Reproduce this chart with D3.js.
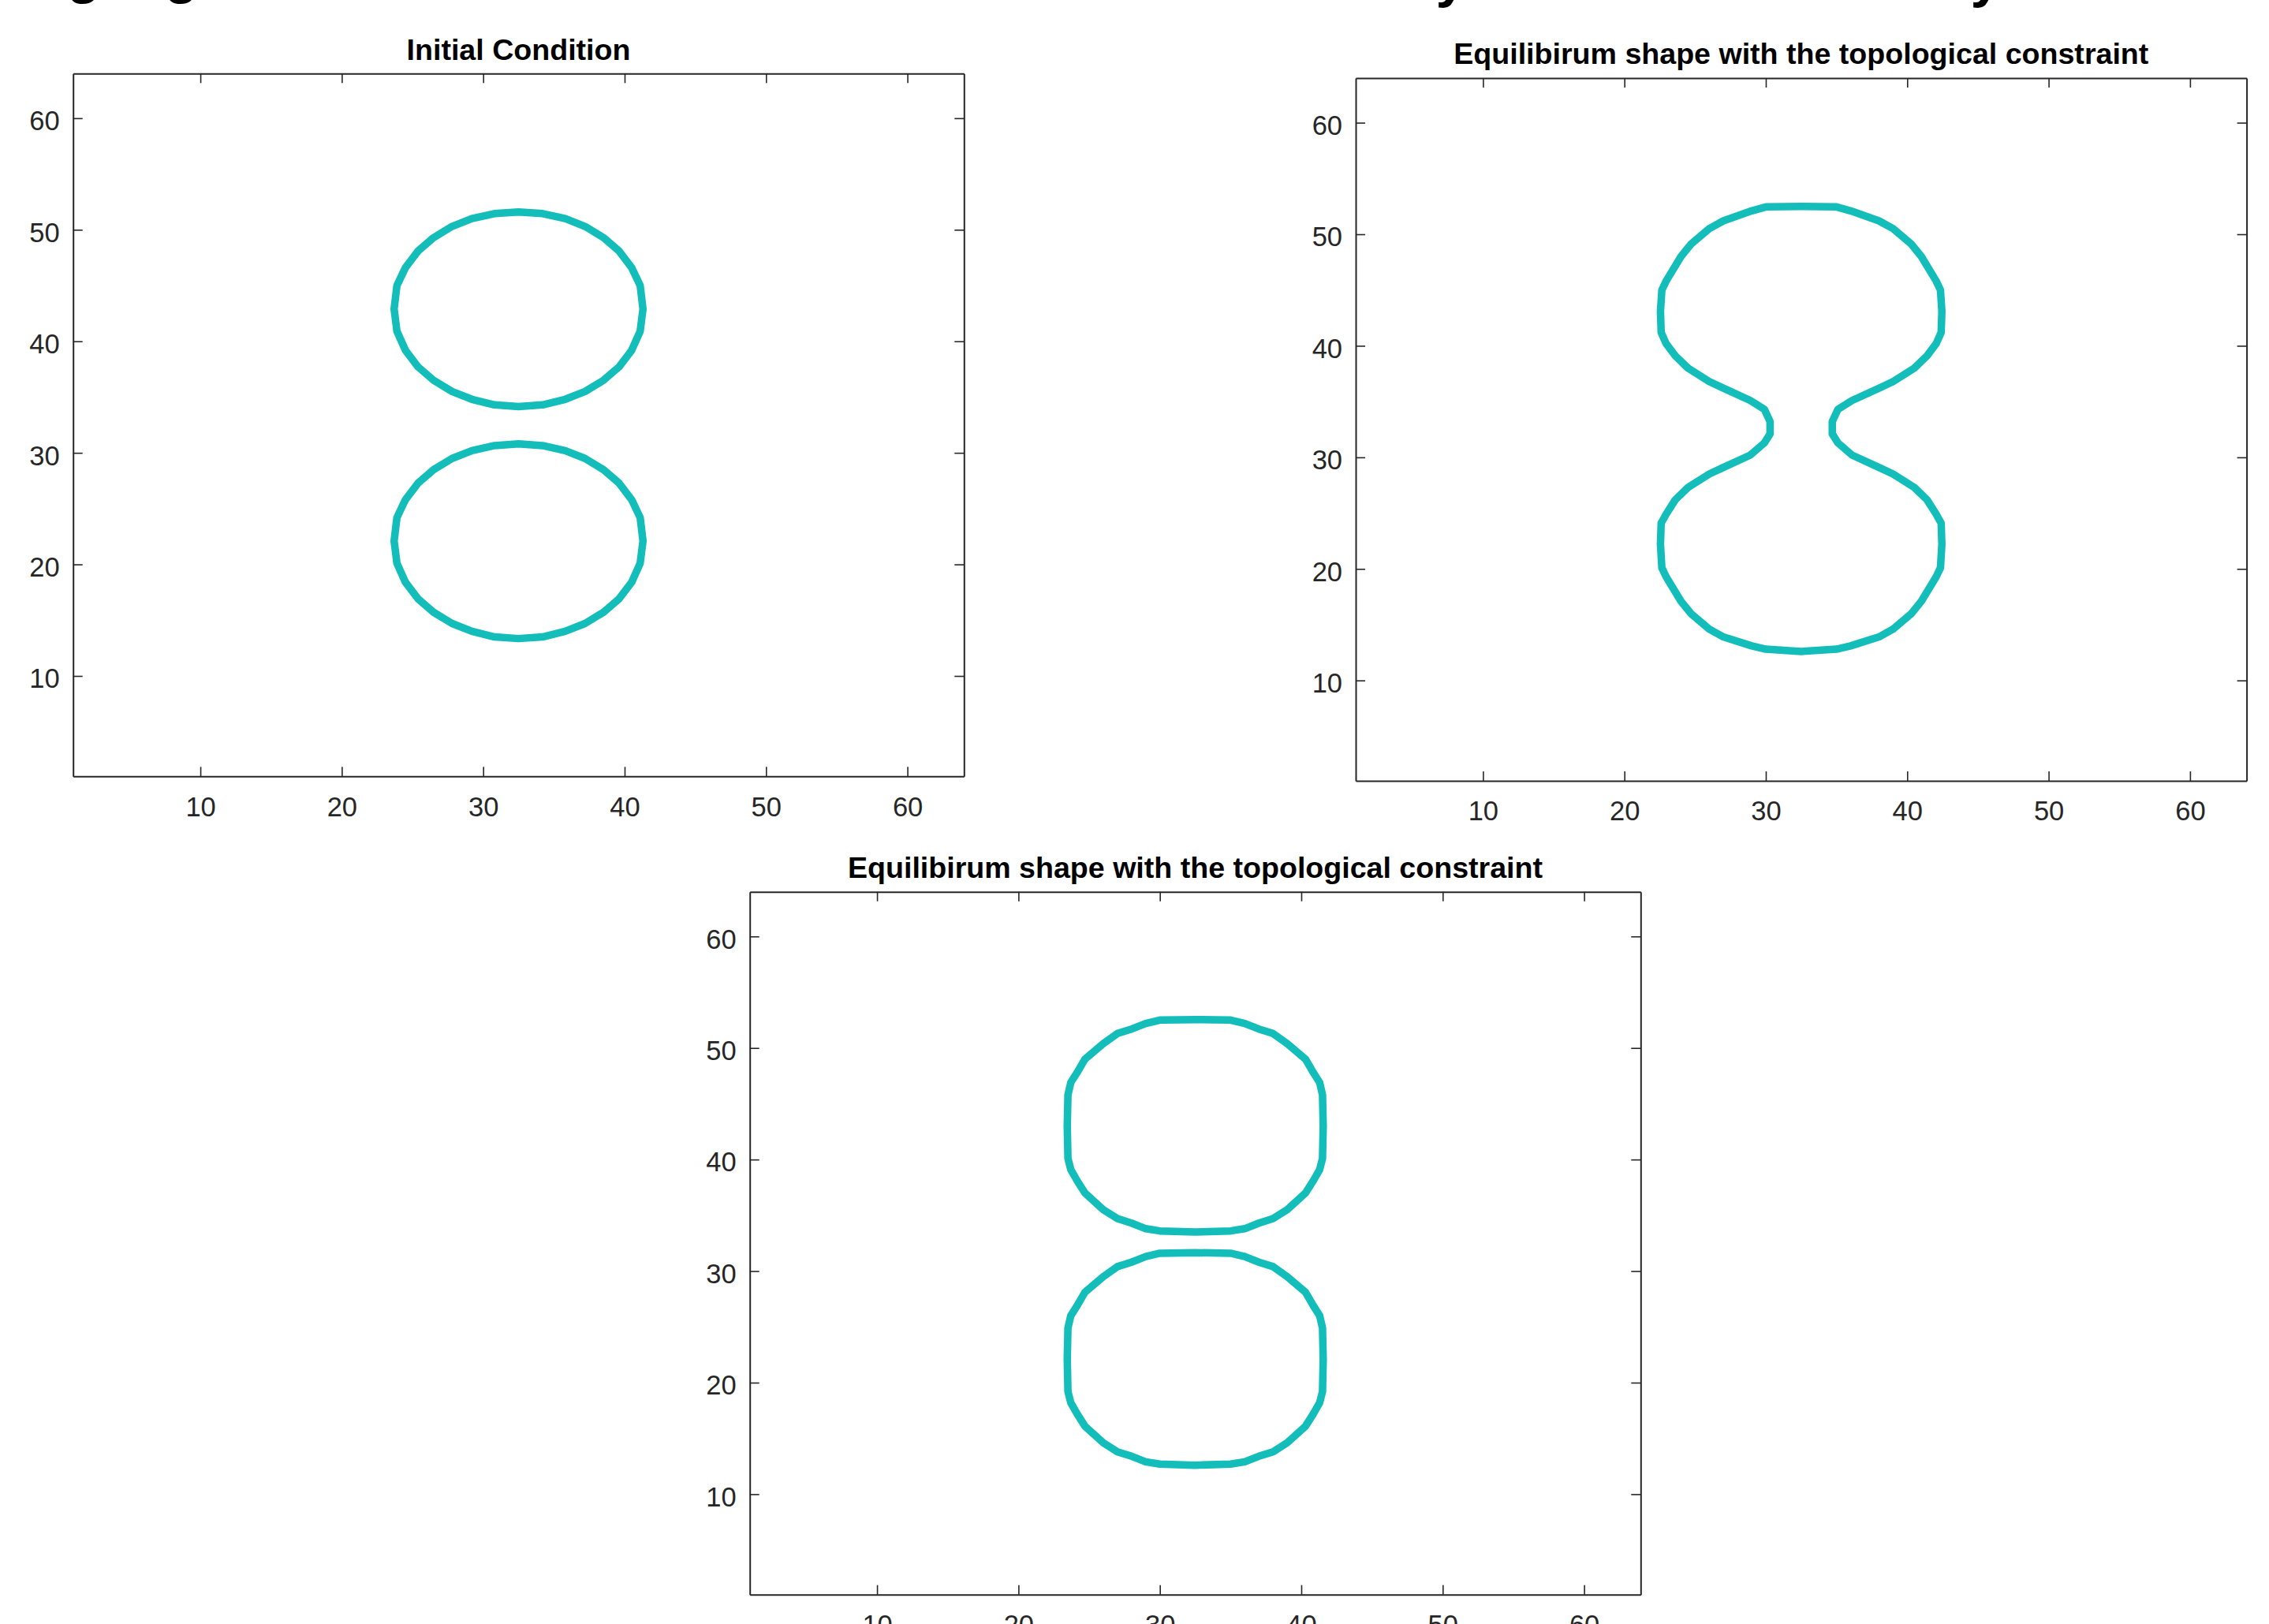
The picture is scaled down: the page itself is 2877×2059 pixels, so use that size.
<!DOCTYPE html>
<html>
<head>
<meta charset="utf-8">
<script src="https://cdn.jsdelivr.net/npm/d3@7"></script>
<style>
  html, body { margin: 0; padding: 0; background: #fff; }
  svg { display: block; }
  text { font-family: "Liberation Sans", Arial, Helvetica, sans-serif; }
</style>
</head>
<body>
<svg id="chart" width="2877" height="2059"></svg>
<script>
// ---------- data ----------
const xTicks = [10, 20, 30, 40, 50, 60];
const yTicks = [10, 20, 30, 40, 50, 60];
const axisDomain = [1, 64];

const titles = [
  "Initial Condition",
  "Equilibirum shape with the topological constraint",
  "Equilibirum shape with the topological constraint"
];

// Panel 1: initial condition, two separate circles
const panel1Upper = [[32.5,51.6],[34.2,51.45],[35.8,51.0],[37.2,50.3],[38.5,49.3],[39.6,48.1],[40.5,46.6],[41.1,45.0],[41.3,42.9],[41.1,40.9],[40.5,39.2],[39.6,37.7],[38.5,36.5],[37.2,35.5],[35.8,34.8],[34.2,34.3],[32.5,34.15],[30.8,34.3],[29.2,34.8],[27.8,35.5],[26.5,36.5],[25.4,37.7],[24.5,39.2],[23.9,40.9],[23.7,42.9],[23.9,45.0],[24.5,46.6],[25.4,48.1],[26.5,49.3],[27.8,50.3],[29.2,51.0],[30.8,51.45]];
const panel1Lower = [[32.5,30.8],[34.2,30.65],[35.8,30.2],[37.2,29.5],[38.5,28.5],[39.6,27.3],[40.5,25.8],[41.1,24.2],[41.3,22.1],[41.1,20.1],[40.5,18.4],[39.6,16.9],[38.5,15.7],[37.2,14.7],[35.8,14.0],[34.2,13.5],[32.5,13.35],[30.8,13.5],[29.2,14.0],[27.8,14.7],[26.5,15.7],[25.4,16.9],[24.5,18.4],[23.9,20.1],[23.7,22.1],[23.9,24.2],[24.5,25.8],[25.4,27.3],[26.5,28.5],[27.8,29.5],[29.2,30.2],[30.8,30.65]];

// Panel 2: merged shape with a neck
const panel2Outline = [[32.5,52.5],[35.0,52.45],[36.0,52.1],[38.0,51.2],[39.0,50.5],[40.3,49.1],[41.0,48.0],[42.05,45.8],[42.35,45.0],[42.45,43.1],[42.4,41.2],[42.05,40.2],[41.4,39.1],[40.5,38.0],[39.0,36.8],[38.0,36.2],[36.1,35.1],[35.1,34.3],[34.7,33.2],[34.7,32.1],[35.1,31.3],[36.1,30.2],[38.0,29.1],[39.0,28.5],[40.5,27.3],[41.4,26.2],[42.05,24.9],[42.4,24.1],[42.45,22.2],[42.35,20.1],[42.05,19.3],[41.0,17.1],[40.3,16.0],[39.0,14.6],[38.0,13.9],[36.0,13.1],[35.0,12.8],[32.5,12.6],[30.0,12.8],[29.0,13.1],[27.0,13.9],[26.0,14.6],[24.7,16.0],[24.0,17.1],[22.95,19.3],[22.65,20.1],[22.55,22.2],[22.6,24.1],[22.95,24.9],[23.6,26.2],[24.5,27.3],[26.0,28.5],[27.0,29.1],[28.9,30.2],[29.9,31.3],[30.3,32.1],[30.3,33.2],[29.9,34.3],[28.9,35.1],[27.0,36.2],[26.0,36.8],[24.5,38.0],[23.6,39.1],[22.95,40.2],[22.6,41.2],[22.55,43.1],[22.65,45.0],[22.95,45.8],[24.0,48.0],[24.7,49.1],[26.0,50.5],[27.0,51.2],[29.0,52.1],[30.0,52.45]];

// Panel 3: two squarish loops
const panel3Upper = [[32.5,52.55],[35.0,52.5],[36.0,52.2],[37.0,51.7],[38.0,51.3],[39.0,50.4],[40.3,49.0],[40.85,47.8],[41.3,46.9],[41.5,45.8],[41.55,43.0],[41.5,40.1],[41.3,39.1],[40.85,38.1],[40.3,37.0],[39.0,35.5],[38.0,34.7],[37.0,34.3],[36.0,33.8],[35.0,33.6],[32.5,33.5],[30.0,33.6],[29.0,33.8],[28.0,34.3],[27.0,34.7],[26.0,35.5],[24.7,37.0],[24.15,38.1],[23.7,39.1],[23.5,40.1],[23.45,43.0],[23.5,45.8],[23.7,46.9],[24.15,47.8],[24.7,49.0],[26.0,50.4],[27.0,51.3],[28.0,51.7],[29.0,52.2],[30.0,52.5]];
const panel3Lower = [[32.5,31.65],[35.0,31.6],[36.0,31.3],[37.0,30.8],[38.0,30.4],[39.0,29.5],[40.3,28.1],[40.85,26.9],[41.3,26.0],[41.5,24.9],[41.55,22.1],[41.5,19.2],[41.3,18.2],[40.85,17.2],[40.3,16.1],[39.0,14.6],[38.0,13.8],[37.0,13.4],[36.0,12.9],[35.0,12.7],[32.5,12.6],[30.0,12.7],[29.0,12.9],[28.0,13.4],[27.0,13.8],[26.0,14.6],[24.7,16.1],[24.15,17.2],[23.7,18.2],[23.5,19.2],[23.45,22.1],[23.5,24.9],[23.7,26.0],[24.15,26.9],[24.7,28.1],[26.0,29.5],[27.0,30.4],[28.0,30.8],[29.0,31.3],[30.0,31.6]];

const panelShapes = [[panel1Upper, panel1Lower], [panel2Outline], [panel3Upper, panel3Lower]];

// ---------- layout ----------
const panels = [
  { left: 92.7,  top: 93.3 },
  { left: 1719,  top: 99 },
  { left: 950.7, top: 1130.7 }
];
const PW = 1129.6, PH = 891;
const axisColor = "#262626";
const lineColor = "#13bdb9";
const tickFont = 34.5, titleFont = 37.6;

const svg = d3.select("#chart");
svg.append("rect").attr("width", 2877).attr("height", 2059).attr("fill", "#fff");

// cut-off figure heading (only descenders visible at the top edge)
const cutGlyphs = [
  { t: "g", x: 106, y: -10 },
  { t: "g", x: 230, y: -10 },
  { t: "y", x: 1840, y: -5 },
  { t: "y", x: 2518, y: -5 }
];
svg.append("g").selectAll("text").data(cutGlyphs).join("text")
  .attr("x", d => d.x).attr("y", d => d.y)
  .attr("text-anchor", "middle")
  .attr("font-size", 70).attr("font-weight", "bold").attr("fill", "#000")
  .text(d => d.t);

panels.forEach((p, i) => {
  const x = d3.scaleLinear().domain(axisDomain).range([p.left, p.left + PW]);
  const y = d3.scaleLinear().domain(axisDomain).range([p.top + PH, p.top]);
  const g = svg.append("g").attr("class", "panel");

  // contour lines
  const line = d3.line().x(d => x(d[0])).y(d => y(d[1])).curve(d3.curveLinearClosed);
  g.selectAll("path.contour").data(panelShapes[i]).join("path")
    .attr("class", "contour")
    .attr("d", line)
    .attr("fill", "none")
    .attr("stroke", lineColor)
    .attr("stroke-width", 9.5)
    .attr("stroke-linejoin", "round");

  // axes
  const bottom = g.append("g").attr("transform", `translate(0,${p.top + PH})`)
    .call(d3.axisBottom(x).tickValues(xTicks).tickSizeInner(-12).tickSizeOuter(0).tickPadding(26).tickFormat(d3.format("d")));
  const top = g.append("g").attr("transform", `translate(0,${p.top})`)
    .call(d3.axisTop(x).tickValues(xTicks).tickSizeInner(-12).tickSizeOuter(0).tickFormat(""));
  const left = g.append("g").attr("transform", `translate(${p.left},0)`)
    .call(d3.axisLeft(y).tickValues(yTicks).tickSizeInner(-12).tickSizeOuter(0).tickPadding(17).tickFormat(d3.format("d")));
  const right = g.append("g").attr("transform", `translate(${p.left + PW},0)`)
    .call(d3.axisRight(y).tickValues(yTicks).tickSizeInner(-12).tickSizeOuter(0).tickFormat(""));

  [bottom, top, left, right].forEach(a => {
    a.select(".domain").attr("stroke", axisColor).attr("stroke-width", 2);
    a.selectAll(".tick line").attr("stroke", axisColor).attr("stroke-width", 1.6);
    a.selectAll(".tick text").attr("fill", axisColor).attr("font-size", tickFont)
      .attr("font-family", "'Liberation Sans', Arial, Helvetica, sans-serif");
  });
  left.selectAll(".tick text").attr("dy", "0.43em");

  // title
  g.append("text")
    .attr("x", p.left + PW / 2)
    .attr("y", p.top - 17.6)
    .attr("text-anchor", "middle")
    .attr("font-size", titleFont)
    .attr("font-weight", "bold")
    .attr("fill", "#000")
    .text(titles[i]);
});
</script>
</body>
</html>
